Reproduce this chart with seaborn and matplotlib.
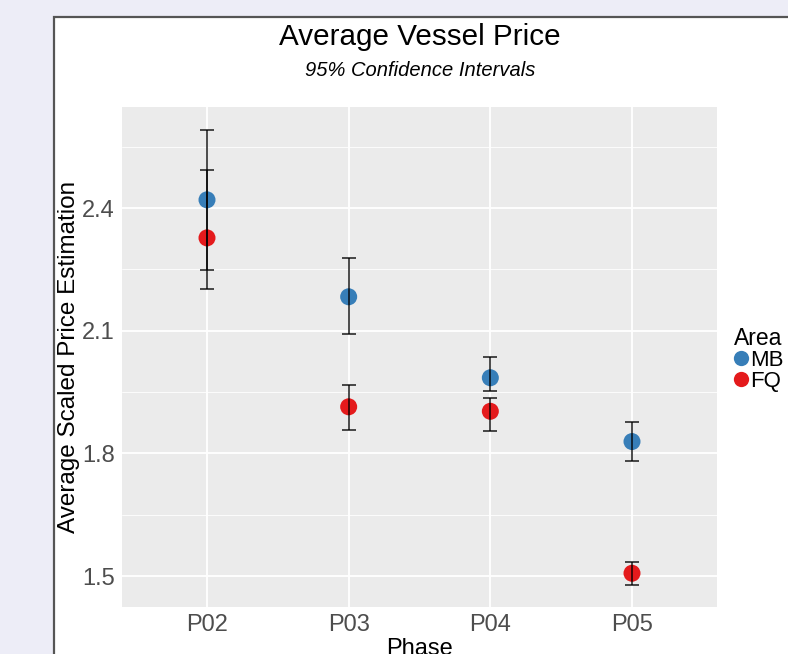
import matplotlib
matplotlib.use("Agg")
import matplotlib.pyplot as plt
import seaborn as sns
import pandas as pd
from matplotlib.patches import Rectangle
from matplotlib.lines import Line2D

# ---- data ----
phases = ["P02", "P03", "P04", "P05"]
areas = ["MB", "FQ"]
mb_mean = [2.420, 2.183, 1.985, 1.829]
mb_low = [2.248, 2.091, 1.953, 1.782]
mb_high = [2.591, 2.278, 2.036, 1.876]
fq_mean = [2.327, 1.914, 1.903, 1.507]
fq_low = [2.202, 1.857, 1.855, 1.478]
fq_high = [2.493, 1.968, 1.935, 1.534]
y_ticks = [1.5, 1.8, 2.1, 2.4]
colors = {"MB": "#377EB8", "FQ": "#E41A1C"}

df = pd.DataFrame({
    "Phase": phases * 2,
    "Area": ["MB"] * 4 + ["FQ"] * 4,
    "mean": mb_mean + fq_mean,
    "low": mb_low + fq_low,
    "high": mb_high + fq_high,
})

sns.set_theme(style="darkgrid")
plt.rcParams["font.family"] = ["Liberation Sans", "DejaVu Sans"]
plt.rcParams["text.color"] = "black"

fig = plt.figure(figsize=(7.88, 6.54), dpi=100)
fig.patch.set_facecolor("#EDEDF7")
bg = Rectangle((54 / 788, -0.1), 1.2, 1 - 17 / 654 + 0.1,
               transform=fig.transFigure, facecolor="white",
               edgecolor="#555555", linewidth=1.6, zorder=-5)
fig.patches.append(bg)

ax = fig.add_axes([122 / 788, 47 / 654, 595 / 788, 500 / 654])
ax.set_zorder(2)
ax.set_facecolor("#EBEBEB")

sns.scatterplot(data=df, x="Phase", y="mean", hue="Area", palette=colors,
                hue_order=areas, s=150, linewidth=0, ax=ax, legend=False,
                zorder=3)
for a in areas:
    sub = df[df["Area"] == a]
    ax.errorbar(sub["Phase"], sub["mean"],
                yerr=[sub["mean"] - sub["low"], sub["high"] - sub["mean"]],
                fmt="none", ecolor="black", alpha=0.7, elinewidth=1.4,
                capsize=5.2, capthick=1.4, zorder=4)

ax.set_xlim(-0.6, 3.6)
ax.set_ylim(1.4245, 2.647)
ax.set_yticks(y_ticks)
ax.set_yticklabels([str(v) for v in y_ticks])
ax.set_yticks([1.65, 1.95, 2.25, 2.55], minor=True)
ax.grid(which="major", color="white", linewidth=1.3)
ax.grid(which="minor", color="white", linewidth=0.6)
ax.grid(which="minor", axis="x", visible=False)
for s in ax.spines.values():
    s.set_visible(False)
ax.tick_params(axis="both", which="major", length=4, width=0.8, color="#333333",
               labelsize=17, labelcolor="#4D4D4D", pad=1.2)
ax.tick_params(axis="both", which="minor", length=0)

ax.set_xlabel("Phase", fontsize=17, labelpad=1, color="black")
ax.set_ylabel("Average Scaled Price Estimation", fontsize=17.5, color="black")
ax.yaxis.set_label_coords(-0.07, 0.5)

fig.text(420 / 788, 1 - 37 / 654, "Average Vessel Price", ha="center", va="center",
         fontsize=21.3, color="black")
fig.text(420 / 788, 1 - 70 / 654, "95% Confidence Intervals", ha="center", va="center",
         fontsize=14.5, style="italic", color="black")

handles = [Line2D([], [], marker="o", linestyle="", markersize=11,
                  markerfacecolor=colors[a], markeredgewidth=0) for a in areas]
leg = fig.legend(handles, areas, title="Area", loc="upper left",
                 bbox_to_anchor=(723 / 788, 1 - 316 / 654), frameon=False,
                 fontsize=16, title_fontsize=16.5, handlelength=0.6,
                 handletextpad=0.12, labelspacing=0.0, borderpad=0,
                 alignment="left")
for t in leg.get_texts():
    t.set_color("black")
leg.get_title().set_color("black")

fig.savefig("out.png", dpi=100)
